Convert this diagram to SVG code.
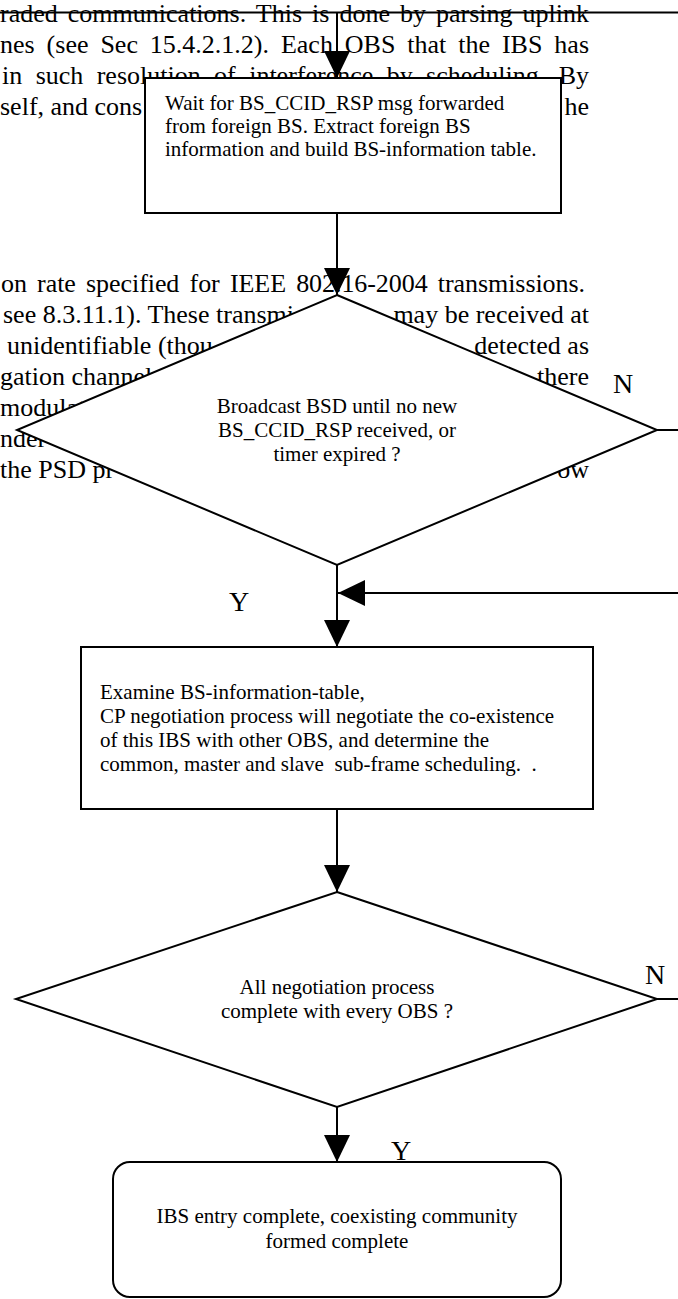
<svg xmlns="http://www.w3.org/2000/svg" width="678" height="1299" viewBox="0 0 678 1299">
<style>
.doc{font-family:"Liberation Serif","Times New Roman",serif;font-size:26px;fill:#000}
.t{font-family:"Liberation Serif","Times New Roman",serif;font-size:21px;fill:#000}
.c{text-anchor:middle}
.lbl{font-family:"Liberation Serif","Times New Roman",serif;font-size:28px;fill:#000}
.shape{fill:#fff;stroke:#000;stroke-width:2}
.conn{fill:none;stroke:#000;stroke-width:2}
</style>
<defs>
<marker id="ah" markerUnits="userSpaceOnUse" viewBox="0 0 27 26" markerWidth="27" markerHeight="26" refX="27" refY="13" orient="auto">
<path d="M0,0 L27,13 L0,26 Z" fill="#000"/>
</marker>
</defs>
<rect width="678" height="1299" fill="#fff"/>
<g id="page-text" class="doc">
<text x="0" y="22" word-spacing="3.5" textLength="589" lengthAdjust="spacing">raded communications. This is done by parsing uplink</text>
<text x="0" y="53" word-spacing="5.4" textLength="589" lengthAdjust="spacing">nes (see Sec 15.4.2.1.2). Each OBS that the IBS has</text>
<text x="2" y="84" word-spacing="6.9" textLength="587" lengthAdjust="spacing">in such resolution of interference by scheduling. By</text>
<text x="0" y="115">self, and cons</text>
<text x="589" y="115" text-anchor="end">he</text>
<text x="1" y="292" word-spacing="3.8" textLength="584" lengthAdjust="spacing">on rate specified for IEEE 802.16-2004 transmissions.</text>
<text x="3" y="323">see 8.3.11.1). These transmi</text>
<text x="589" y="323" text-anchor="end">may be received at</text>
<text x="7" y="354">unidentifiable (thou</text>
<text x="589" y="354" text-anchor="end">detected as</text>
<text x="0" y="385">gation channel</text>
<text x="589" y="385" text-anchor="end">there</text>
<text x="0" y="416">modulat</text>
<text x="0" y="447">nder</text>
<text x="0" y="478">the PSD pr</text>
<text x="589" y="478" text-anchor="end">ow</text>
</g>
<g id="node-wait">
<rect class="shape" x="145" y="78" width="416" height="135"/>
<text class="t" x="165" y="110">Wait for BS_CCID_RSP msg forwarded</text>
<text class="t" x="165" y="133">from foreign BS. Extract foreign BS</text>
<text class="t" x="165" y="156">information and build BS-information table.</text>
</g>
<g id="node-broadcast">
<polygon class="shape" points="337,295 657,430 337,565 17,430"/>
<text class="t c" x="337" y="413">Broadcast BSD until no new</text>
<text class="t c" x="337" y="437">BS_CCID_RSP received, or</text>
<text class="t c" x="337" y="461">timer expired ?</text>
</g>
<g id="node-examine">
<rect class="shape" x="81" y="647" width="512" height="162"/>
<text class="t" x="100" y="699">Examine BS-information-table,</text>
<text class="t" x="100" y="723">CP negotiation process will negotiate the co-existence</text>
<text class="t" x="100" y="747">of this IBS with other OBS, and determine the</text>
<text class="t" x="100" y="771" xml:space="preserve">common, master and slave  sub-frame scheduling.  .</text>
</g>
<g id="node-allneg">
<polygon class="shape" points="337,892 657,999 337,1107 16,999"/>
<text class="t c" x="337" y="994">All negotiation process</text>
<text class="t c" x="337" y="1018">complete with every OBS ?</text>
</g>
<g id="node-end">
<rect class="shape" x="113" y="1162" width="448" height="135" rx="17" ry="17"/>
<text class="t c" x="337" y="1223">IBS entry complete, coexisting community</text>
<text class="t c" x="337" y="1248">formed complete</text>
</g>
<g id="connectors">
<path class="conn" d="M0,12.5 H678"/>
<path class="conn" d="M337,12.5 V78" marker-end="url(#ah)"/>
<path class="conn" d="M337,213 V295" marker-end="url(#ah)"/>
<path class="conn" d="M657,430 H678"/>
<path class="conn" d="M337,565 V647" marker-end="url(#ah)"/>
<path class="conn" d="M678,593 H338" marker-end="url(#ah)"/>
<path class="conn" d="M337,809 V892" marker-end="url(#ah)"/>
<path class="conn" d="M657,999 H678"/>
<path class="conn" d="M337,1107 V1162" marker-end="url(#ah)"/>
</g>
<g id="labels">
<text class="lbl" x="613" y="393">N</text>
<text class="lbl" x="229" y="611">Y</text>
<text class="lbl" x="645" y="984">N</text>
<text class="lbl" x="391" y="1160">Y</text>
</g>
</svg>
